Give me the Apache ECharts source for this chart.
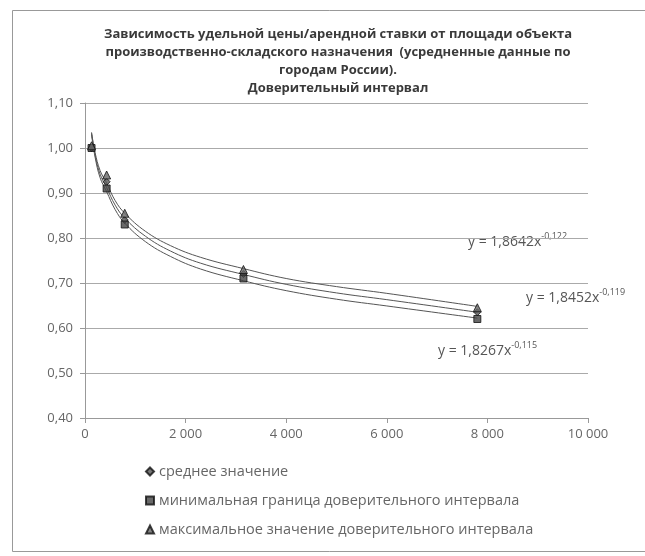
<!DOCTYPE html>
<html><head><meta charset="utf-8">
<script src="https://cdn.jsdelivr.net/npm/echarts@6/dist/echarts.min.js"></script>
<style>html,body{margin:0;padding:0;background:#fff}#c{width:645px;height:556px}</style>
</head><body><div id="c"></div>
<script>
// ---- data ----
const pointX = [130, 430, 790, 3150, 7800];
const meanValues = [1.00, 0.925, 0.84, 0.72, 0.635];
const minValues  = [1.00, 0.91, 0.83, 0.71, 0.62];
const maxValues  = [1.005, 0.94, 0.855, 0.73, 0.645];

const curveX      = [130, 200, 300, 430, 600, 790, 1200, 1700, 2300, 3150, 4000, 5000, 6000, 7800];
const curveTop    = [1.035, 0.99, 0.95, 0.922, 0.883, 0.855, 0.815, 0.783, 0.757, 0.732, 0.710, 0.692, 0.677, 0.648];
const curveMid    = [1.033, 0.985, 0.942, 0.912, 0.873, 0.844, 0.804, 0.771, 0.744, 0.719, 0.697, 0.678, 0.663, 0.635];
const curveBottom = [1.03, 0.98, 0.934, 0.903, 0.863, 0.833, 0.792, 0.759, 0.731, 0.705, 0.683, 0.664, 0.649, 0.622];

const seriesNames = ['среднее значение', 'минимальная граница доверительного интервала', 'максимальное значение доверительного интервала'];
const equations = [
  {coef: '1,8642', exp: '-0,122'},
  {coef: '1,8452', exp: '-0,119'},
  {coef: '1,8267', exp: '-0,115'}
];
const titleText = 'Зависимость удельной цены/арендной ставки от площади объекта\nпроизводственно-складского назначения  (усредненные данные по\nгородам России).\nДоверительный интервал';

const zip = (xs, ys) => xs.map((x, i) => [x, ys[i]]);
const FONT = '"Open Sans", "Noto Sans", sans-serif';

const chart = echarts.init(document.getElementById('c'));
const lineStyle = {color: '#555', width: 1};
const eqText = (e) => ({
  type: 'text',
  style: {
    text: '{b|y = ' + e.coef + 'x}{s|' + e.exp + '}',
    rich: {
      b: {fontSize: 14, fontFamily: FONT, fill: '#555', verticalAlign: 'bottom'},
      s: {fontSize: 9, fontFamily: FONT, fill: '#555', padding: [0, 0, 8, 0]}
    }
  }
});
chart.setOption({
  animation: false,
  backgroundColor: '#fff',
  title: {
    text: titleText, left: 333, top: 20, textAlign: 'center',
    textStyle: {fontSize: 13, fontWeight: 'bold', color: '#3a3a3a', fontFamily: FONT, lineHeight: 18}
  },
  grid: {left: 85, right: 57, top: 103, bottom: 138},
  xAxis: {
    type: 'value', min: 0, max: 10000, interval: 2000,
    axisLine: {lineStyle: {color: '#999'}},
    axisTick: {show: true, lineStyle: {color: '#999'}},
    splitLine: {show: false},
    axisLabel: {color: '#666', fontSize: 13, fontFamily: FONT, margin: 10,
      formatter: v => v >= 1000 ? Math.floor(v / 1000) + ' 000' : String(v)}
  },
  yAxis: {
    type: 'value', min: 0.4, max: 1.1, interval: 0.1,
    axisLine: {show: true, lineStyle: {color: '#999'}},
    axisTick: {show: true, lineStyle: {color: '#999'}},
    splitLine: {lineStyle: {color: '#aaa'}},
    axisLabel: {color: '#666', fontSize: 13, fontFamily: FONT, margin: 12,
      formatter: v => v.toFixed(2).replace('.', ',')}
  },
  legend: {
    orient: 'vertical', left: 140, top: 458, itemGap: 12, itemWidth: 8, itemHeight: 8,
    data: seriesNames,
    textStyle: {color: '#666', fontSize: 14.5, fontFamily: FONT, lineHeight: 17}
  },
  series: [
    {type: 'line', data: zip(curveX, curveTop), smooth: 0.4, symbol: 'none', lineStyle, silent: true},
    {type: 'line', data: zip(curveX, curveMid), smooth: 0.4, symbol: 'none', lineStyle, silent: true},
    {type: 'line', data: zip(curveX, curveBottom), smooth: 0.4, symbol: 'none', lineStyle, silent: true},
    {name: seriesNames[0], type: 'scatter', data: zip(pointX, meanValues), symbol: 'diamond', symbolSize: 7, itemStyle: {color: '#555', borderColor: '#111', borderWidth: 1}, z: 5},
    {name: seriesNames[1], type: 'scatter', data: zip(pointX, minValues), symbol: 'rect', symbolSize: 7, itemStyle: {color: '#444', borderColor: '#111', borderWidth: 1}, z: 5},
    {name: seriesNames[2], type: 'scatter', data: zip(pointX, maxValues), symbol: 'triangle', symbolSize: 8, itemStyle: {color: '#666', borderColor: '#111', borderWidth: 1}, z: 5}
  ],
  graphic: [
    {type: 'rect', left: 10, top: 8, shape: {width: 640, height: 541}, style: {fill: 'none', stroke: '#999', lineWidth: 1}, silent: true},
    Object.assign(eqText(equations[0]), {left: 468, top: 232}),
    Object.assign(eqText(equations[1]), {left: 526, top: 288}),
    Object.assign(eqText(equations[2]), {left: 438, top: 341})
  ]
});
</script></body></html>
